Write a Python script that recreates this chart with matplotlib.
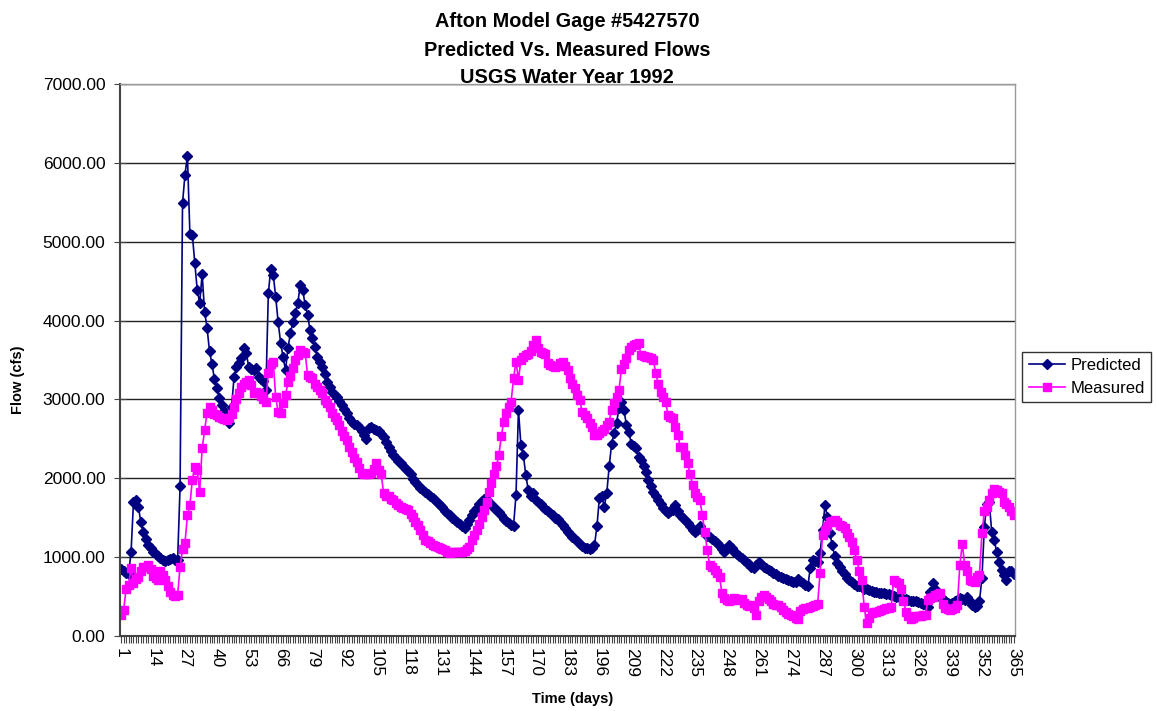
import matplotlib
matplotlib.use("Agg")
import matplotlib.pyplot as plt

plt.rcParams['font.family'] = ['Liberation Sans', 'DejaVu Sans']

# daily flows (cfs), USGS water year 1992, days 1..365
predicted = [
    850, 820, 800, 790, 1060, 1700, 1720, 1640, 1440, 1320,
    1230, 1160, 1110, 1070, 1040, 1010, 990, 970, 950, 960,
    980, 990, 970, 960, 1900, 5490, 5850, 6090, 5100, 5090,
    4730, 4390, 4220, 4590, 4110, 3910, 3610, 3450, 3260, 3150,
    3020, 2930, 2850, 2760, 2700, 2900, 3280, 3410, 3460, 3530,
    3650, 3590, 3410, 3380, 3370, 3400, 3280, 3260, 3240, 3120,
    4350, 4660, 4580, 4300, 3980, 3720, 3540, 3370, 3650, 3840,
    3980, 4100, 4220, 4450, 4390, 4200, 4070, 3880, 3780, 3660,
    3540, 3470, 3410, 3320, 3220, 3160, 3100, 3060, 3030, 2980,
    2930, 2880, 2830, 2770, 2710, 2690, 2670, 2650, 2600, 2550,
    2500, 2640, 2650, 2630, 2610, 2600, 2560, 2520, 2460, 2400,
    2350, 2300, 2260, 2220, 2200, 2160, 2120, 2090, 2050, 1990,
    1950, 1910, 1880, 1850, 1820, 1800, 1780, 1750, 1720, 1690,
    1660, 1630, 1590, 1560, 1530, 1500, 1470, 1440, 1420, 1390,
    1370, 1420, 1470, 1530, 1580, 1620, 1680, 1710, 1740, 1730,
    1700, 1660, 1630, 1600, 1570, 1530, 1490, 1460, 1430, 1410,
    1400, 1790, 2870, 2420, 2290, 2040, 1850, 1770, 1810, 1720,
    1700, 1670, 1640, 1610, 1580, 1560, 1530, 1500, 1480, 1450,
    1410, 1370, 1320, 1290, 1260, 1230, 1200, 1170, 1140, 1120,
    1110, 1100, 1110, 1150, 1390, 1750, 1770, 1640, 1810, 2150,
    2440, 2570, 2700, 2890, 2970, 2870, 2680, 2590, 2440, 2410,
    2380, 2270, 2230, 2160, 2080, 1980, 1900, 1830, 1770, 1720,
    1670, 1620, 1590, 1560, 1580, 1600, 1660, 1590, 1540, 1500,
    1470, 1430, 1390, 1350, 1320, 1350, 1390, 1340, 1300, 1270,
    1260, 1230, 1200, 1180, 1140, 1100, 1070, 1110, 1150, 1110,
    1070, 1040, 1010, 990, 960, 930, 910, 880, 860, 900,
    940, 910, 880, 860, 840, 820, 800, 780, 760, 750,
    730, 720, 710, 700, 690, 690, 720, 700, 670, 650,
    630, 860, 960, 950, 940, 1050, 1340, 1660, 1510, 1300,
    1150, 1010, 930, 880, 820, 780, 740, 710, 680, 660,
    640, 630, 620, 600, 590, 580, 570, 560, 555, 550,
    545, 540, 535, 530, 520, 510, 500, 490, 480, 475,
    470, 460, 450, 445, 440, 430, 420, 400, 390, 370,
    560, 670, 600, 540, 500, 470, 440, 420, 410, 420,
    440, 460, 480, 470, 460, 500, 450, 390, 370, 380,
    440, 730, 1380, 1680, 1700, 1320, 1220, 1070, 940, 840,
    770, 710, 820, 820, 790,
]

measured = [
    260, 330, 600, 650, 860, 670, 720, 750, 820, 880,
    870, 900, 850, 760, 740, 710, 820, 770, 710, 630,
    560, 520, 510, 520, 880, 1100, 1180, 1530, 1660, 1980,
    2140, 2100, 1830, 2380, 2610, 2830, 2910, 2870, 2820, 2800,
    2780, 2770, 2750, 2740, 2760, 2820, 2900, 3000, 3080, 3160,
    3200, 3220, 3250, 3180, 3080, 3090, 3080, 3040, 3000, 2970,
    3330, 3450, 3480, 3030, 2840, 2830, 2950, 3050, 3220, 3300,
    3400, 3500, 3560, 3630, 3600, 3590, 3310, 3290, 3270, 3200,
    3160, 3120, 3080, 2990, 2950, 2910, 2830, 2780, 2740, 2680,
    2600, 2540, 2490, 2400, 2330, 2260, 2210, 2130, 2070, 2060,
    2060, 2050, 2070, 2120, 2190, 2100, 2060, 1810, 1780, 1770,
    1740, 1720, 1690, 1660, 1640, 1620, 1610, 1600, 1550, 1510,
    1450, 1410, 1340, 1280, 1220, 1200, 1180, 1160, 1140, 1130,
    1110, 1100, 1090, 1070, 1050, 1060, 1060, 1070, 1060, 1060,
    1080, 1100, 1130, 1220, 1280, 1340, 1420, 1510, 1600, 1700,
    1820, 1940, 2050, 2150, 2290, 2530, 2720, 2830, 2900, 2970,
    3270, 3480, 3250, 3500, 3540, 3560, 3580, 3620, 3690, 3750,
    3650, 3600, 3590, 3580, 3460, 3440, 3420, 3410, 3430, 3460,
    3480, 3420, 3370, 3270, 3200, 3140, 3060, 2990, 2840, 2800,
    2760, 2700, 2650, 2550, 2550, 2570, 2600, 2630, 2670, 2720,
    2870, 2950, 3030, 3120, 3390, 3450, 3520, 3630, 3660, 3690,
    3700, 3710, 3560, 3550, 3540, 3540, 3520, 3500, 3330, 3200,
    3100, 3030, 2970, 2800, 2780, 2760, 2650, 2550, 2400, 2400,
    2300, 2190, 2060, 1910, 1810, 1760, 1720, 1530, 1320, 1090,
    900, 870, 840, 800, 750, 540, 480, 460, 450, 460,
    480, 470, 460, 470, 420, 390, 380, 390, 350, 270,
    440, 500, 520, 490, 470, 440, 400, 390, 390, 370,
    330, 300, 280, 270, 250, 230, 220, 320, 340, 350,
    360, 370, 380, 390, 400, 800, 1280, 1350, 1400, 1450,
    1460, 1470, 1440, 1410, 1390, 1370, 1300, 1250, 1190, 1090,
    960, 830, 710, 370, 160, 230, 290, 300, 310, 320,
    330, 340, 350, 360, 370, 710, 690, 670, 600, 450,
    310, 250, 220, 230, 250, 250, 250, 260, 270, 460,
    480, 500, 520, 530, 540, 400, 350, 340, 330, 340,
    350, 390, 900, 1170, 900, 820, 710, 700, 690, 750,
    770, 1300, 1580, 1640, 1720, 1810, 1870, 1850, 1830, 1810,
    1700, 1670, 1640, 1580, 1530,
]

title_lines = ['Afton Model Gage #5427570', 'Predicted Vs. Measured Flows', 'USGS Water Year 1992']

days = list(range(1, len(predicted) + 1))
label_days = list(range(1, 366, 13))

W, H = 1156, 711
fig = plt.figure(figsize=(W / 100, H / 100), dpi=100)
ax = fig.add_axes([120 / W, 1 - 636 / H, (1015 - 120) / W, (636 - 84) / H])

ax.plot(days, predicted, color='#000080', lw=1.2, marker='D', ms=5.5,
        mec='#000080', mfc='#000080', label='Predicted')
ax.plot(days, measured, color='#FF00FF', lw=1.2, marker='s', ms=6,
        mec='#FF00FF', mfc='#FF00FF', label='Measured')

ax.set_xlim(0.5, 365.5)
ax.set_ylim(0, 7000)
ax.set_yticks(range(0, 7001, 1000))
ax.set_yticklabels([f"{v:.2f}" for v in range(0, 7001, 1000)], fontsize=12.5)
ax.yaxis.grid(True, color='#222222', lw=1)
ax.set_axisbelow(True)

ax.set_xticks(days, minor=True)
ax.set_xticks(label_days)
ax.set_xticklabels([str(d) for d in label_days], rotation=-90, fontsize=12.5)
ax.tick_params(axis='x', which='both', direction='out', length=5, width=0.8, color='#444444')
ax.tick_params(axis='y', direction='inout', length=9, color='#444444', pad=6)

for s in ['left', 'bottom']:
    ax.spines[s].set_color('#444444')
    ax.spines[s].set_linewidth(1.5)
for s in ['top', 'right']:
    ax.spines[s].set_color('#999999')
    ax.spines[s].set_linewidth(1)

# title, three lines
for txt, yb in zip(title_lines, [27, 56, 83]):
    fig.text(567 / W, 1 - yb / H, txt, ha='center', va='baseline',
             fontsize=14.3, fontweight='bold')

fig.text(573 / W, 1 - 699 / H, 'Time (days)', ha='center', va='center',
         fontsize=10.5, fontweight='bold')
fig.text(18 / W, 1 - 380 / H, 'Flow (cfs)', ha='center', va='center',
         rotation=90, fontsize=10.5, fontweight='bold')

fig.legend(loc='center left', bbox_to_anchor=(1022 / W, 1 - 377 / H),
           fontsize=12, frameon=True, fancybox=False, edgecolor='black',
           borderpad=0.4, handlelength=2.2, labelspacing=0.45, handletextpad=0.3,
           borderaxespad=0)

fig.savefig('out.png', dpi=100)
